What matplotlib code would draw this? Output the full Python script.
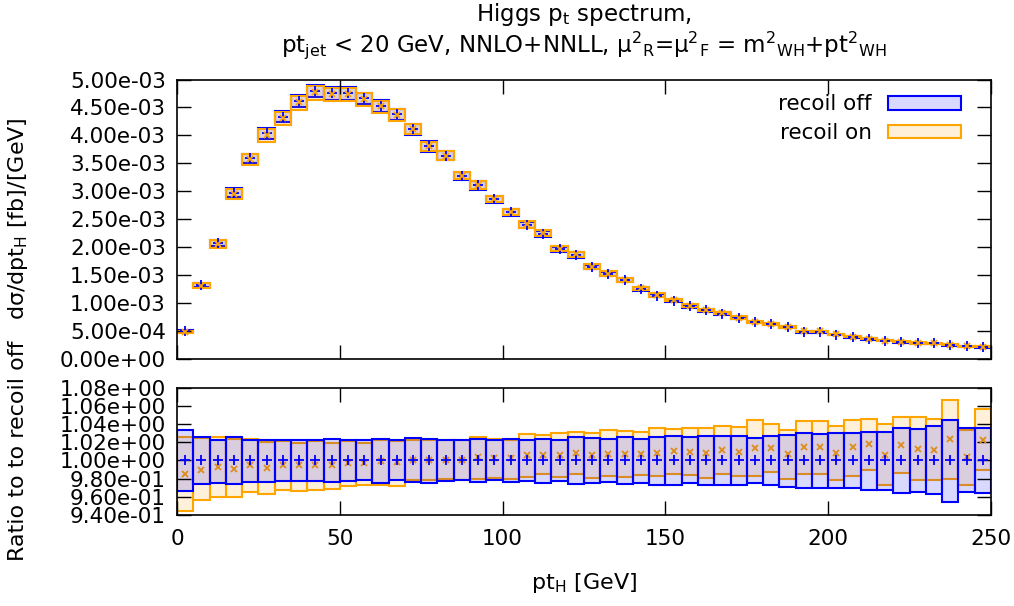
import matplotlib
matplotlib.use('Agg')
import matplotlib.pyplot as plt
import numpy as np

# 5 GeV bins of the Higgs transverse momentum
bin_lo = np.arange(0, 250, 5)
bin_w = 5.0

# recoil off, central value [fb/GeV]
off_central = [4.94e-4, 1.327e-3, 2.077e-3, 2.976e-3, 3.589e-3, 4.036e-3, 4.333e-3, 4.613e-3,
               4.792e-3, 4.756e-3, 4.750e-3, 4.661e-3, 4.524e-3, 4.375e-3, 4.107e-3, 3.804e-3,
               3.635e-3, 3.280e-3, 3.106e-3, 2.855e-3, 2.622e-3, 2.395e-3, 2.240e-3, 1.959e-3,
               1.858e-3, 1.643e-3, 1.517e-3, 1.410e-3, 1.254e-3, 1.135e-3, 1.045e-3, 0.944e-3,
               0.870e-3, 0.810e-3, 0.735e-3, 0.653e-3, 0.618e-3, 0.571e-3, 0.488e-3, 0.488e-3,
               0.435e-3, 0.394e-3, 0.359e-3, 0.324e-3, 0.300e-3, 0.282e-3, 0.282e-3, 0.247e-3,
               0.229e-3, 0.212e-3]

# scale variation bands, normalised to the recoil off central value
off_lo = [0.966, 0.9745, 0.9756, 0.9745, 0.9767, 0.9767, 0.977, 0.977, 0.9775, 0.976,
          0.977, 0.978, 0.9756, 0.978, 0.976, 0.9756, 0.977, 0.978, 0.976, 0.978,
          0.976, 0.977, 0.9756, 0.977, 0.974, 0.975, 0.976, 0.9745, 0.9756, 0.9735,
          0.973, 0.975, 0.973, 0.973, 0.973, 0.975, 0.973, 0.971, 0.9694, 0.970,
          0.9694, 0.9694, 0.9675, 0.968, 0.964, 0.9657, 0.963, 0.9547, 0.9657, 0.964]
off_hi = [1.034, 1.0255, 1.023, 1.0255, 1.023, 1.022, 1.022, 1.0225, 1.023, 1.024,
          1.023, 1.022, 1.024, 1.022, 1.025, 1.024, 1.023, 1.0225, 1.024, 1.022,
          1.024, 1.023, 1.024, 1.023, 1.026, 1.025, 1.024, 1.0255, 1.024, 1.026,
          1.027, 1.0255, 1.027, 1.027, 1.027, 1.025, 1.027, 1.028, 1.030, 1.029,
          1.030, 1.030, 1.0317, 1.0317, 1.036, 1.035, 1.038, 1.045, 1.0354, 1.036]
on_lo = [0.944, 0.956, 0.9595, 0.9595, 0.965, 0.963, 0.968, 0.9665, 0.9675, 0.969,
         0.972, 0.9727, 0.973, 0.972, 0.978, 0.978, 0.9797, 0.979, 0.9797, 0.981,
         0.980, 0.982, 0.985, 0.982, 0.9855, 0.981, 0.983, 0.982, 0.984, 0.983,
         0.9855, 0.984, 0.981, 0.985, 0.9825, 0.983, 0.987, 0.980, 0.985, 0.9855,
         0.979, 0.983, 0.990, 0.9727, 0.986, 0.978, 0.9785, 0.980, 0.973, 0.9895]
on_hi = [1.026, 1.025, 1.026, 1.024, 1.024, 1.020, 1.021, 1.0195, 1.021, 1.019,
         1.021, 1.019, 1.022, 1.021, 1.023, 1.022, 1.0225, 1.022, 1.026, 1.024,
         1.023, 1.029, 1.028, 1.030, 1.0317, 1.0305, 1.033, 1.032, 1.031, 1.0354,
         1.035, 1.0355, 1.036, 1.038, 1.037, 1.045, 1.040, 1.033, 1.043, 1.043,
         1.0375, 1.045, 1.046, 1.040, 1.0475, 1.0475, 1.046, 1.066, 1.034, 1.057]
on_central = [0.985, 0.990, 0.993, 0.991, 0.995, 0.992, 0.995, 0.995, 0.995, 0.995,
              0.997, 0.997, 0.9995, 0.9985, 1.0005, 1.000, 1.000, 1.000, 1.004, 1.003,
              1.003, 1.0057, 1.006, 1.006, 1.0086, 1.006, 1.0075, 1.007, 1.0075, 1.0086,
              1.0104, 1.009, 1.0086, 1.0115, 1.0096, 1.014, 1.014, 1.0068, 1.0148, 1.0148,
              1.0083, 1.0148, 1.0185, 1.006, 1.0167, 1.0123, 1.012, 1.0233, 1.004, 1.023]

c_off = (0.0, 0.0, 1.0)
c_on = (1.0, 0.647, 0.0)
c_on_dark = (0.87, 0.55, 0.1)
fill_alpha = 0.15
FS = 15.5

plt.rcParams['font.family'] = 'DejaVu Sans'
plt.rcParams['mathtext.fontset'] = 'dejavusans'
plt.rcParams['font.size'] = FS


def draw_band(ax, centre, lo, hi, color, marker, msize, mcolor=None, label=None):
	centre = np.asarray(centre)
	lo = np.asarray(lo)
	hi = np.asarray(hi)
	if mcolor is None:
		mcolor = color
	bars = ax.bar(bin_lo + bin_w / 2, hi - lo, bottom=lo, width=bin_w,
	              facecolor=color + (fill_alpha,), edgecolor=color, linewidth=1.5,
	              label=label)
	ax.plot(bin_lo + bin_w / 2, centre, linestyle='none', marker=marker, color=mcolor,
	        markersize=msize, markeredgewidth=1.3)
	return bars


def style_axes(ax):
	ax.set_xlim(0, 250)
	ax.set_xticks(np.arange(0, 251, 50))
	ax.tick_params(direction='in', which='both', top=True, right=True,
	               length=10, width=1.0, labelsize=FS, pad=8)
	ax.yaxis.set_major_formatter(plt.FuncFormatter(lambda v, p: '%.2e' % v))
	for sp in ax.spines.values():
		sp.set_linewidth(1.2)


fig = plt.figure(figsize=(10.14, 6.06), dpi=100)
W, H = 1014.0, 606.0
ax_top = fig.add_axes([177 / W, 1 - 359 / H, 814 / W, (359 - 79.5) / H])
ax_bot = fig.add_axes([177 / W, 1 - 515 / H, 814 / W, (515 - 387.7) / H])

# spectrum: bands scaled back to absolute values
off_c = np.asarray(off_central)
h_off = draw_band(ax_top, off_c, off_c * np.asarray(off_lo), off_c * np.asarray(off_hi),
                  c_off, '+', 7, label='recoil off')
h_on = draw_band(ax_top, off_c * np.asarray(on_central), off_c * np.asarray(on_lo),
                 off_c * np.asarray(on_hi), c_on, 'x', 5, label='recoil on')

# ratio panel: recoil on underneath, recoil off on top
draw_band(ax_bot, on_central, on_lo, on_hi, c_on, 'x', 5, mcolor=c_on_dark)
draw_band(ax_bot, np.ones(len(bin_lo)), off_lo, off_hi, c_off, '+', 7)

style_axes(ax_top)
ax_top.set_ylim(0, 5e-3)
ax_top.set_yticks(np.arange(0, 5.01e-3, 5e-4))
ax_top.tick_params(labelbottom=False)

style_axes(ax_bot)
ax_bot.set_ylim(0.94, 1.08)
ax_bot.set_yticks(np.arange(0.94, 1.0801, 0.02))
ax_bot.tick_params(axis='x', pad=10)
ax_bot.set_xlabel('pt$_\\mathregular{H}$ [GeV]', fontsize=16, labelpad=16)

ax_top.legend([h_off, h_on], ['recoil off', 'recoil on'], loc='upper right',
              bbox_to_anchor=(1 - 30 / 814, 1 - 15 / 279.5), borderaxespad=0, borderpad=0,
              frameon=False, markerfirst=False, handlelength=3.4, handleheight=0.6,
              handletextpad=0.75, labelspacing=0.4, fontsize=FS)

fig.text(0.5 * (177 + 991) / W, 1 - 1 / H,
         'Higgs p$_\\mathregular{t}$ spectrum,\n'
         'pt$_\\mathregular{jet}$ < 20 GeV, NNLO+NNLL, '
         'μ$^\\mathregular{2}$$_\\mathregular{R}$=μ$^\\mathregular{2}$$_\\mathregular{F}$ = '
         'm$^\\mathregular{2}$$_\\mathregular{WH}$+pt$^\\mathregular{2}$$_\\mathregular{WH}$',
         ha='center', va='top', fontsize=16.5, linespacing=1.05)

fig.text(18 / W, 1 - 219 / H, 'dσ/dpt$_\\mathregular{H}$ [fb]/[GeV]', rotation=90,
         ha='center', va='center', fontsize=16)
fig.text(18 / W, 1 - 451 / H, 'Ratio to to recoil off', rotation=90,
         ha='center', va='center', fontsize=16)

fig.savefig('out.png', dpi=100)
